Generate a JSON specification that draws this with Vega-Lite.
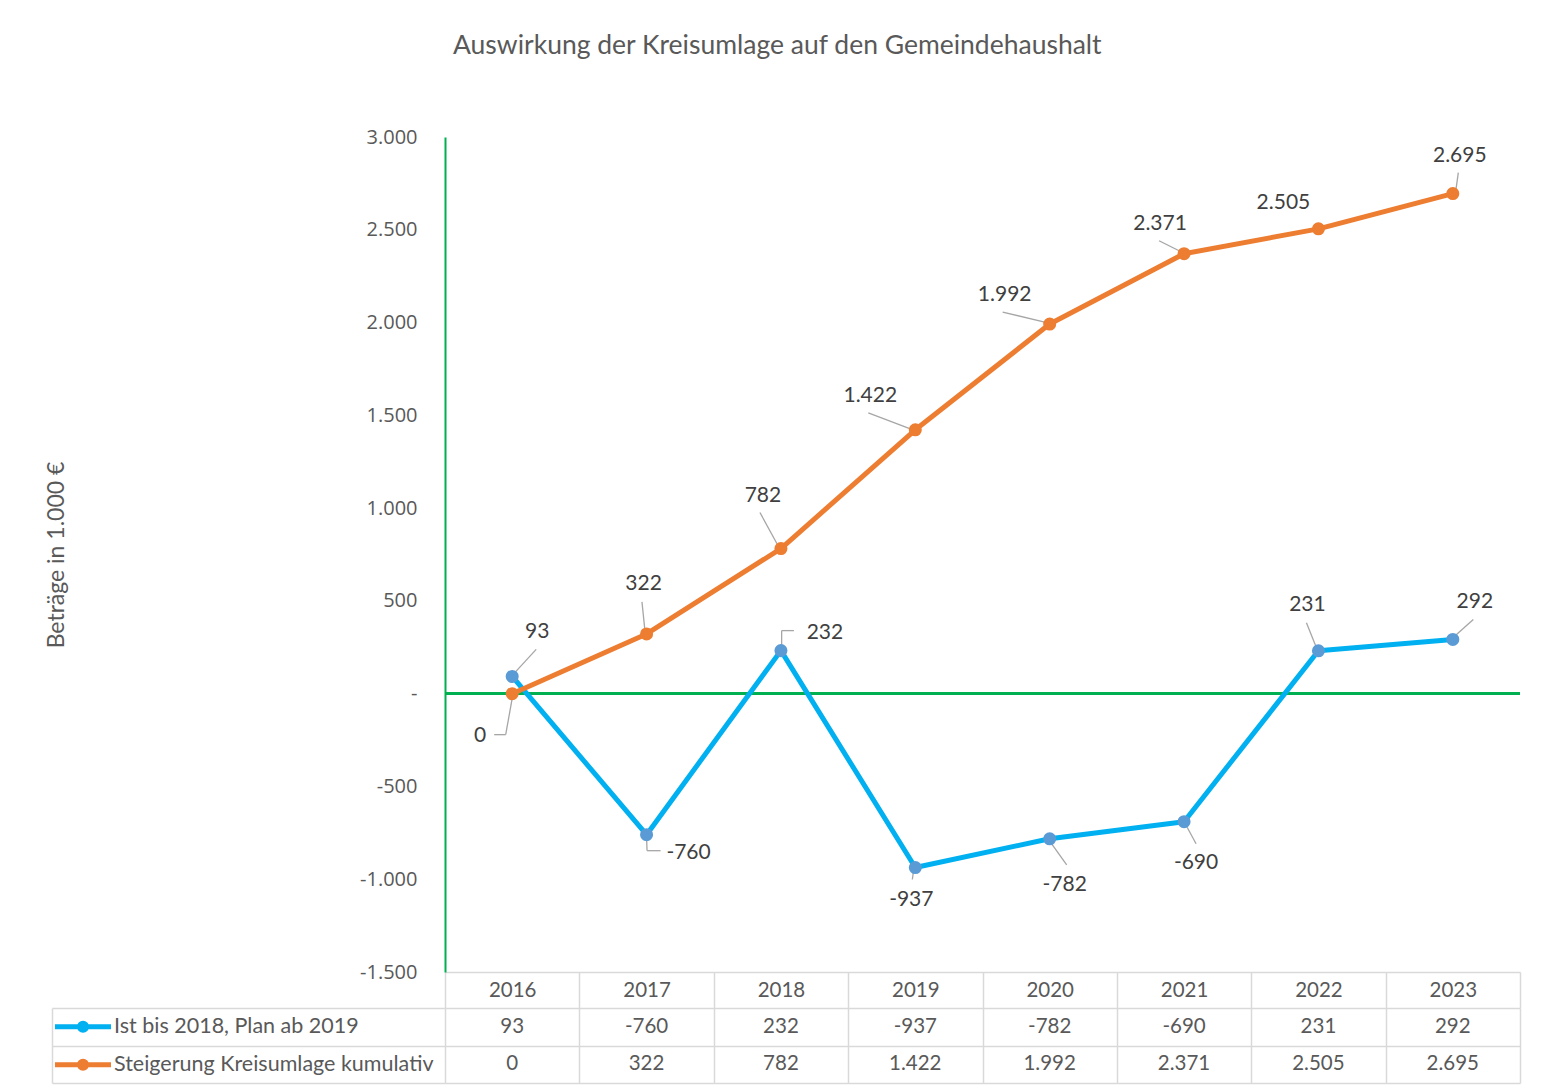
{
"$schema":"https://vega.github.io/schema/vega-lite/v6.json",
"padding":{"left":45,"top":32,"right":28,"bottom":8},
"title":{"text":"Auswirkung der Kreisumlage auf den Gemeindehaushalt","font":"Lato","fontSize":26.5,"fontWeight":"normal","color":"#595959","anchor":"middle","frame":"bounds","offset":68,"dx":-6},
"data":{"values":[
{"year":2016,"series":"Ist bis 2018, Plan ab 2019","value":93},
{"year":2017,"series":"Ist bis 2018, Plan ab 2019","value":-760},
{"year":2018,"series":"Ist bis 2018, Plan ab 2019","value":232},
{"year":2019,"series":"Ist bis 2018, Plan ab 2019","value":-937},
{"year":2020,"series":"Ist bis 2018, Plan ab 2019","value":-782},
{"year":2021,"series":"Ist bis 2018, Plan ab 2019","value":-690},
{"year":2022,"series":"Ist bis 2018, Plan ab 2019","value":231},
{"year":2023,"series":"Ist bis 2018, Plan ab 2019","value":292},
{"year":2016,"series":"Steigerung Kreisumlage kumulativ","value":0},
{"year":2017,"series":"Steigerung Kreisumlage kumulativ","value":322},
{"year":2018,"series":"Steigerung Kreisumlage kumulativ","value":782},
{"year":2019,"series":"Steigerung Kreisumlage kumulativ","value":1422},
{"year":2020,"series":"Steigerung Kreisumlage kumulativ","value":1992},
{"year":2021,"series":"Steigerung Kreisumlage kumulativ","value":2371},
{"year":2022,"series":"Steigerung Kreisumlage kumulativ","value":2505},
{"year":2023,"series":"Steigerung Kreisumlage kumulativ","value":2695}
]},
"bounds":"flush",
"spacing":36,
"config":{
  "view":{"stroke":null},
  "font":"Lato",
  "locale":{"number":{"decimal":",","thousands":".","grouping":[3],"currency":["","\u00a0€"],"minus":"-"}}
},
"vconcat":[
{
 "width":1075,"height":835,
 "layer":[
  {"mark":{"type":"rule","color":"#00B050","strokeWidth":2},"encoding":{"y":{"datum":0,"type":"quantitative"}}},
  {"transform":[{"filter":"datum.series == 'Steigerung Kreisumlage kumulativ'"}],
   "mark":{"type":"rule","color":"#A6A6A6","strokeWidth":1.3,
     "xOffset":{"expr":"[0.5,-1.6,-2.7,-3.6,-3,-3,0,3][datum.year-2016]"},
     "yOffset":{"expr":"[2,-3,-2.6,-0.5,-1.4,-2,0,-3][datum.year-2016]"},
     "x2Offset":{"expr":"[-6.5,-4.6,-21,-47,-47,-25,0,5.5][datum.year-2016]"},
     "y2Offset":{"expr":"[41,-32,-36,-17,-12,-13,0,-21][datum.year-2016]"}},
   "encoding":{"x":{"field":"year","type":"ordinal"},"x2":{"field":"year"},"y":{"field":"value","type":"quantitative"},"y2":{"field":"value"}}},
  {"transform":[{"filter":"datum.series == 'Ist bis 2018, Plan ab 2019'"}],
   "mark":{"type":"rule","color":"#A6A6A6","strokeWidth":1.3,
     "xOffset":{"expr":"[1,0,0.7,-2,2,2.4,-2,2][datum.year-2016]"},
     "yOffset":{"expr":"[-2,3,-5,5,5,4.3,-3,-3.5][datum.year-2016]"},
     "x2Offset":{"expr":"[24,0.5,0.7,-3,17,12,-12,20.5][datum.year-2016]"},
     "y2Offset":{"expr":"[-27,16,-20,12,26,22,-28,-20][datum.year-2016]"}},
   "encoding":{"x":{"field":"year","type":"ordinal"},"x2":{"field":"year"},"y":{"field":"value","type":"quantitative"},"y2":{"field":"value"}}},
  {"transform":[{"filter":"(datum.series == 'Steigerung Kreisumlage kumulativ' && datum.year == 2016) || (datum.series == 'Ist bis 2018, Plan ab 2019' && (datum.year == 2017 || datum.year == 2018))"}],
   "mark":{"type":"rule","color":"#A6A6A6","strokeWidth":1.3,
     "xOffset":{"expr":"datum.year == 2016 ? -6.5 : (datum.year == 2017 ? 0.5 : 0.7)"},
     "yOffset":{"expr":"datum.year == 2016 ? 41 : (datum.year == 2017 ? 16 : -20)"},
     "x2Offset":{"expr":"datum.year == 2016 ? -18 : (datum.year == 2017 ? 14 : 13)"},
     "y2Offset":{"expr":"datum.year == 2016 ? 41 : (datum.year == 2017 ? 16 : -20)"}},
   "encoding":{"x":{"field":"year","type":"ordinal"},"x2":{"field":"year"},"y":{"field":"value","type":"quantitative"},"y2":{"field":"value"}}},
  {"mark":{"type":"line","strokeWidth":5,"strokeJoin":"round","strokeCap":"round"},
   "encoding":{
    "x":{"field":"year","type":"ordinal","scale":{"type":"band","paddingInner":0,"paddingOuter":0},
      "axis":{"title":null,"labelFont":"Lato","labelFontSize":20.5,"labelColor":"#595959","labelAngle":0,"labelAlign":"center","labelBaseline":"middle","labelPadding":-18,"tickBand":"extent","tickSize":36,"tickColor":"#d9d9d9","tickWidth":1.5,"domainColor":"#d9d9d9","domainWidth":1.5,"grid":false}},
    "y":{"field":"value","type":"quantitative","scale":{"domain":[-1500,3000],"nice":false,"zero":false},
      "axis":{"title":"Beträge in 1.000 €","titleFont":"Lato","titleFontSize":23,"titleFontWeight":"normal","titleColor":"#595959","titlePadding":291,
        "values":[-1500,-1000,-500,0,500,1000,1500,2000,2500,3000],
        "labelExpr":"datum.value == 0 ? '-' : replace(replace(format(datum.value, ','), ',', '.'), '\u2212', '-')",
        "labelFont":"Open Sans","labelFontSize":20,"labelColor":"#595959","labelPadding":28,"ticks":false,
        "domainColor":"#00B050","domainWidth":2,"gridColor":"#d9d9d9","gridWidth":1.5}},
    "color":{"field":"series","type":"nominal","scale":{"domain":["Ist bis 2018, Plan ab 2019","Steigerung Kreisumlage kumulativ"],"range":["#00B0F0","#ED7D31"]},
      "legend":{"orient":"none","legendX":-374.5,"legendY":877.25,"title":null,"padding":0,
        "symbolType":"M-2.8,0L2.8,0M0.36,0A0.36,0.36,0,1,1,-0.36,0A0.36,0.36,0,1,1,0.36,0","symbolSize":400,"symbolStrokeWidth":5,
        "labelFont":"Lato","labelFontSize":21.5,"labelColor":"#595959","labelLimit":600,"labelOffset":18.5,"rowPadding":9}}
   }},
  {"mark":{"type":"circle","size":170,"opacity":1},
   "encoding":{"x":{"field":"year","type":"ordinal"},"y":{"field":"value","type":"quantitative"},
    "fill":{"field":"series","type":"nominal","scale":{"domain":["Ist bis 2018, Plan ab 2019","Steigerung Kreisumlage kumulativ"],"range":["#5B9BD5","#ED7D31"]},"legend":null}}},
  {"transform":[{"filter":"datum.series == 'Steigerung Kreisumlage kumulativ'"}],
   "mark":{"type":"text","font":"Lato","fontSize":21,"color":"#404040","align":"center","baseline":"middle",
     "dx":{"expr":"[-32,-3,-18,-45,-45,-24,-35,7][datum.year-2016]"},
     "dy":{"expr":"[42,-50,-53,-34,-29,-30,-26,-38][datum.year-2016]"}},
   "encoding":{"x":{"field":"year","type":"ordinal"},"y":{"field":"value","type":"quantitative"},"text":{"field":"value","type":"quantitative","format":",d"}}},
  {"transform":[{"filter":"datum.series == 'Ist bis 2018, Plan ab 2019'"}],
   "mark":{"type":"text","font":"Lato","fontSize":21,"color":"#404040","align":"center","baseline":"middle",
     "dx":{"expr":"[25,42,44,-4,15,12,-11,22][datum.year-2016]"},
     "dy":{"expr":"[-44,18,-18,32,46,41,-46,-37][datum.year-2016]"}},
   "encoding":{"x":{"field":"year","type":"ordinal"},"y":{"field":"value","type":"quantitative"},"text":{"field":"value","type":"quantitative","format":",d"}}}
 ]
},
{
 "width":1075,"height":75,
 "mark":{"type":"text","font":"Lato","fontSize":20.5,"color":"#595959","baseline":"middle"},
 "encoding":{
   "x":{"field":"year","type":"ordinal","scale":{"type":"band","paddingInner":0,"paddingOuter":0},
     "axis":{"title":null,"labels":false,"ticks":false,"domain":false,"grid":true,"tickBand":"extent","gridColor":"#d9d9d9","gridWidth":1.5}},
   "y":{"field":"series","type":"nominal","scale":{"type":"band","domain":["Ist bis 2018, Plan ab 2019","Steigerung Kreisumlage kumulativ"],"paddingInner":0,"paddingOuter":0},
     "axis":{"title":null,"labels":false,"grid":true,"tickBand":"extent","gridColor":"#d9d9d9","gridWidth":1.5,"ticks":true,"tickSize":-393,"tickColor":"#d9d9d9","tickWidth":1.5,"offset":393,"domain":true,"domainColor":"#d9d9d9","domainWidth":1.5}},
   "text":{"field":"value","type":"quantitative","format":",d"}
 }
}
]
}
